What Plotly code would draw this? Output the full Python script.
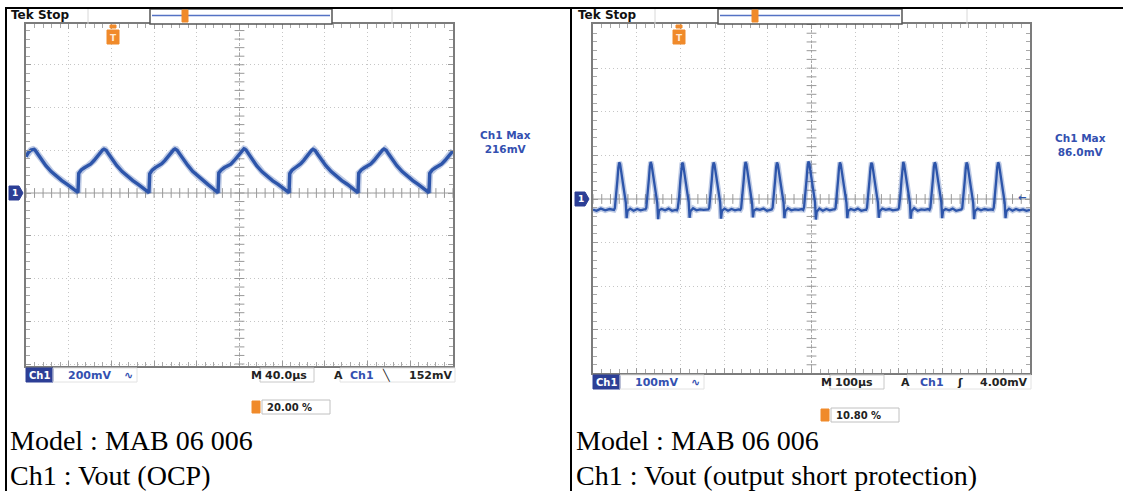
import numpy as np
import plotly.graph_objects as go

W, H = 1123, 491

# ---------------- values read off the two scope captures ----------------
# left capture: Ch1 Vout during OCP, 200 mV/div, 40 us/div
ocp_time_us = [
    0, 2, 4.6, 6.6, 7.6, 8.6, 11.1, 14.6, 18.6, 23.6, 28.6, 33.6, 38.6, 43.6, 47.1, 48.7,
    49.4, 51.7, 54.7, 57.7, 60.7, 63.7, 66.7, 69.7, 71.7, 73.1, 74.1, 75.1, 77.6, 81.1, 85.1, 90.1, 95.1, 100.1, 105.1, 110.1, 113.6, 115.2,
    115.9, 118.2, 121.2, 124.2, 127.2, 130.2, 133.2, 136.2, 138.2, 139.6, 140.6, 141.6, 144.1, 147.6, 151.6, 156.1, 161.1, 165.6, 170.6, 175.1, 178.6, 179.9,
    180.6, 182.9, 185.9, 188.9, 191.9, 194.9, 197.9, 200.9, 202.9, 204.2, 205.2, 206.2, 208.7, 212.2, 216.2, 221.2, 226.2, 231.2, 236.2, 241.2, 244.7, 246.4,
    247.1, 249.2, 251.9, 254.7, 257.4, 260.2, 263, 265.8, 267.6, 268.9, 269.9, 270.9, 273.4, 276.9, 280.9, 285.9, 290.9, 295.9, 300.9, 305.9, 309.4, 311,
    311.7, 314, 317, 320, 323, 326, 329, 332, 334, 335.4, 336.4, 337.4, 339.9, 343.4, 347.4, 352.4, 357.4, 362.4, 367.4, 372.4, 375.9, 377.5,
    378.2, 380.5, 383.5, 386.5, 389.5, 392.5, 395.5, 398.5, 400,
]
ocp_vout_mv = [
    170, 188, 201, 205, 204, 200, 181, 155, 128, 100, 78, 58, 40, 22, 9, 3,
    92, 108, 118, 126, 136, 152, 172, 190, 201, 205, 204, 200, 181, 155, 128, 100, 78, 58, 40, 22, 9, 2,
    90, 107, 119, 127, 137, 153, 173, 191, 202, 206, 205, 200, 182, 156, 129, 101, 78, 58, 39, 21, 9, 1,
    94, 108, 119, 126, 135, 151, 171, 190, 202, 207, 205, 201, 182, 155, 127, 99, 77, 57, 40, 22, 9, 2,
    91, 107, 117, 125, 137, 153, 172, 189, 200, 205, 204, 199, 180, 154, 128, 100, 77, 58, 41, 22, 9, 2,
    93, 108, 118, 126, 136, 152, 172, 190, 201, 206, 205, 200, 181, 155, 128, 100, 78, 58, 40, 22, 10, 2,
    92, 108, 118, 126, 136, 152, 172, 190, 197,
]

# right capture: Ch1 Vout during output short, 100 mV/div, 100 us/div
short_time_us = [
    0, 8, 18, 28, 38, 44,
    48, 50, 53, 56, 58, 60, 62, 64, 67, 70, 73, 75, 77, 79, 85, 93, 101, 109, 117,
    120, 122, 125, 128, 130, 132, 134, 136, 139, 142, 145, 147, 149, 151, 157, 165, 173, 181, 189,
    192, 194, 197, 200, 202, 204, 206, 208, 211, 214, 217, 219, 221, 223, 229, 237, 245, 253, 261,
    264, 266, 269, 272, 274, 276, 278, 280, 283, 286, 289, 291, 293, 295, 301, 309, 317, 325, 333,
    337, 339, 342, 345, 347, 349, 351, 353, 356, 359, 362, 364, 366, 368, 374, 382, 390, 398, 406,
    409, 411, 414, 417, 419, 421, 423, 425, 428, 431, 434, 436, 438, 440, 446, 454, 462, 470, 478,
    481, 483, 486, 489, 491, 493, 495, 497, 500, 503, 506, 508, 510, 512, 518, 526, 534, 542, 550,
    553, 555, 558, 561, 563, 565, 567, 569, 572, 575, 578, 580, 582, 584, 590, 598, 606, 614, 622,
    625, 627, 630, 633, 635, 637, 639, 641, 644, 647, 650, 652, 654, 656, 662, 670, 678, 686, 694,
    698, 700, 703, 706, 708, 710, 712, 714, 717, 720, 723, 725, 727, 729, 735, 743, 751, 759, 767,
    770, 772, 775, 778, 780, 782, 784, 786, 789, 792, 795, 797, 799, 801, 807, 815, 823, 831, 839,
    843, 845, 848, 851, 853, 855, 857, 859, 862, 865, 868, 870, 872, 874, 880, 888, 896, 904, 912,
    915, 917, 920, 923, 925, 927, 929, 931, 934, 937, 940, 942, 944, 946, 952, 960, 968, 976, 984, 992, 1000,
]
short_vout_mv = [
    -24, -27, -22, -26, -23, -25,
    -25, -21, 5, 45, 72, 84, 80, 68, 48, 25, 5, -8, -44, -27, -22, -27, -23, -26, -24,
    -24, -20, 7, 47, 74, 85, 79, 67, 46, 24, 4, -9, -46, -26, -23, -26, -22, -27, -25,
    -26, -21, 4, 44, 71, 83, 81, 69, 49, 26, 6, -7, -43, -28, -21, -26, -24, -25, -23,
    -24, -20, 6, 46, 73, 84, 79, 67, 47, 24, 5, -8, -45, -27, -22, -27, -23, -26, -24,
    -25, -21, 5, 45, 72, 85, 80, 68, 48, 25, 4, -9, -42, -27, -23, -25, -22, -27, -25,
    -24, -20, 6, 46, 73, 84, 79, 67, 47, 24, 5, -8, -44, -28, -21, -26, -24, -25, -23,
    -25, -19, 8, 48, 75, 86, 81, 69, 49, 26, 6, -7, -47, -29, -22, -27, -23, -26, -24,
    -24, -21, 5, 45, 72, 84, 79, 67, 46, 24, 4, -9, -44, -27, -23, -26, -22, -27, -25,
    -25, -20, 6, 46, 72, 83, 80, 68, 48, 25, 5, -8, -43, -28, -22, -25, -23, -26, -24,
    -24, -21, 4, 44, 73, 85, 79, 67, 47, 24, 5, -8, -45, -28, -21, -27, -24, -25, -23,
    -25, -20, 7, 47, 74, 84, 80, 68, 48, 26, 6, -7, -44, -27, -23, -26, -22, -27, -25,
    -24, -21, 5, 45, 72, 84, 79, 66, 46, 24, 4, -9, -46, -28, -22, -26, -23, -25, -24,
    -25, -20, 6, 46, 73, 84, 80, 67, 47, 25, 5, -8, -44, -28, -22, -27, -23, -26, -24, -27, -25,
]

# scope settings / readouts
volts_per_div = [200, 100]
us_per_div = [40, 100]
max_labels = ["Ch1 Max<br>216mV", "Ch1 Max<br>86.0mV"]
scale_labels = ["200mV", "100mV"]
time_labels = ["40.0\u00b5s", "100\u00b5s"]
trig_levels = ["152mV", "4.00mV"]
trig_slopes = ["\u2572", "\u0283"]
trig_positions = ["20.00 %", "10.80 %"]
model_text = "Model : MAB 06 006"
ch1_captions = ["Ch1 : Vout (OCP)", "Ch1 : Vout (output short protection)"]

# ---------------- layout helpers (pixel -> paper) ----------------
def fx(x):
    return x / W


def fy(y):
    return 1 - y / H


BLUE = "#2d55aa"
TEXT_BLUE = "#3350b0"
ORANGE = "#f08a2a"
GRID = "#c6c6c6"
FRAME = "#7c7c7c"

# graticule boxes in pixels: left, right, top, bottom, ground row
panels = [
    dict(x0=26, x1=453, y0=24, y1=366, gnd=193, ax="", off=0),
    dict(x0=593, x1=1030, y0=24, y1=373, gnd=199, ax="2", off=567),
]

fig = go.Figure()
annotations = []
shapes = []


def text(x, y, s, size=11, color="#222", xanchor="left", family="DejaVu Sans", bold=True):
    annotations.append(dict(
        x=fx(x), y=fy(y), xref="paper", yref="paper", text=f"<b>{s}</b>" if bold else s,
        showarrow=False, xanchor=xanchor, yanchor="middle", align="center",
        font=dict(family=family, size=size, color=color), borderpad=0,
    ))


def rect(x0, y0, x1, y1, line="#888", fill=None, width=1):
    shapes.append(dict(type="rect", xref="paper", yref="paper",
                       x0=fx(x0), x1=fx(x1), y0=fy(y1), y1=fy(y0),
                       line=dict(color=line, width=width), fillcolor=fill, layer="above"))


def hline(x0, x1, y, color="#000", width=2):
    shapes.append(dict(type="line", xref="paper", yref="paper", x0=fx(x0), x1=fx(x1),
                       y0=fy(y), y1=fy(y), line=dict(color=color, width=width), layer="above"))


def vline(x, y0, y1, color="#000", width=2):
    shapes.append(dict(type="line", xref="paper", yref="paper", x0=fx(x), x1=fx(x),
                       y0=fy(y0), y1=fy(y1), line=dict(color=color, width=width), layer="above"))


series = [(ocp_time_us, ocp_vout_mv, 3.4), (short_time_us, short_vout_mv, 2.3)]

for i, p in enumerate(panels):
    vdiv, tdiv = volts_per_div[i], us_per_div[i]
    px_per_div = (p["y1"] - p["y0"]) / 8
    y_top = (p["gnd"] - p["y0"]) / px_per_div * vdiv
    y_bot = -(p["y1"] - p["gnd"]) / px_per_div * vdiv
    xa, ya = "xaxis" + p["ax"], "yaxis" + p["ax"]
    xr, yr = "x" + p["ax"], "y" + p["ax"]
    axis_common = dict(
        showticklabels=False, showgrid=True, gridcolor=GRID, griddash="1px,3px", gridwidth=1,
        zeroline=False, showline=True, linecolor=FRAME, linewidth=2, mirror="ticks",
        ticks="inside", ticklen=5, tickcolor="#9a9a9a", tickwidth=1, tick0=0,
        fixedrange=True,
    )
    fig.update_layout({
        xa: dict(axis_common, domain=[fx(p["x0"]), fx(p["x1"])], range=[0, 10 * tdiv], dtick=tdiv,
                 anchor=yr, minor=dict(dtick=tdiv / 5, ticks="inside", ticklen=4, tickcolor="#a8a8a8", showgrid=False)),
        ya: dict(axis_common, domain=[fy(p["y1"]), fy(p["y0"])], range=[y_bot, y_top], dtick=vdiv,
                 anchor=xr, minor=dict(dtick=vdiv / 5, ticks="inside", ticklen=4, tickcolor="#a8a8a8", showgrid=False)),
    })

    # centre cross with small tick marks
    shapes.append(dict(type="line", xref=xr, yref=yr, x0=5 * tdiv, x1=5 * tdiv, y0=y_bot, y1=y_top,
                       line=dict(color="#a6a6a6", width=1, dash="3px,2px"), layer="below"))
    shapes.append(dict(type="line", xref=xr, yref=yr, x0=0, x1=10 * tdiv, y0=0, y1=0,
                       line=dict(color="#9c9c9c", width=1), layer="below"))
    hx = np.arange(0, 10 * tdiv + 1e-9, tdiv / 5)
    vy = np.arange(-4 * vdiv, 4 * vdiv + 1e-9, vdiv / 5)
    fig.add_trace(go.Scatter(x=hx, y=np.zeros_like(hx), mode="markers", xaxis=xr, yaxis=yr,
                             marker=dict(symbol="line-ns", size=7, line=dict(color="#999", width=1)),
                             hoverinfo="skip", showlegend=False))
    fig.add_trace(go.Scatter(x=np.full_like(vy, 5 * tdiv), y=vy, mode="markers", xaxis=xr, yaxis=yr,
                             marker=dict(symbol="line-ew", size=7, line=dict(color="#999", width=1)),
                             hoverinfo="skip", showlegend=False))

    t, v, lw = series[i]
    # soft halo under the trace, like the phosphor-style smear on the capture
    fig.add_trace(go.Scatter(x=t, y=v, mode="lines", xaxis=xr, yaxis=yr, opacity=0.3,
                             line=dict(color=BLUE, width=lw + 3), hoverinfo="skip", showlegend=False))
    fig.add_trace(go.Scatter(x=t, y=v, mode="lines", xaxis=xr, yaxis=yr,
                             line=dict(color=BLUE, width=lw), showlegend=False, name="Ch1"))

    o = p["off"]
    # top status strip
    text(10 + o, 15, "Tek Stop", size=12, color="#111")
    vline(88 + o, 8, 24, color="#d8d8d8", width=1)
    vline(392 if i == 0 else 967, 8, 24, color="#d8d8d8", width=1)
    bar = (150, 332, 185) if i == 0 else (718, 902, 755)
    rect(bar[0], 9, bar[1], 24, line="#555", fill="white", width=1.5)
    hline(bar[0] + 2, bar[1] - 2, 15.5, color="#5472c4", width=1.5)
    rect(bar[2] - 3, 10, bar[2] + 3, 22, line=ORANGE, fill=ORANGE, width=1)

    # trigger position marker under the top edge
    tx = 113 if i == 0 else 679
    rect(tx - 6, 30, tx + 6, 44, line=ORANGE, fill=ORANGE, width=1)
    rect(tx - 3, 25, tx + 3, 28, line=ORANGE, fill=ORANGE, width=1)
    text(tx, 37.5, "T", size=9, color="#ffe9d2", xanchor="center")

    # ground marker
    gx = 9 if i == 0 else 575
    shapes.append(dict(type="path", xref="paper", yref="paper", layer="above",
                       path=f"M {fx(gx)} {fy(p['gnd'] - 7)} L {fx(gx + 10)} {fy(p['gnd'] - 7)} "
                            f"L {fx(gx + 14)} {fy(p['gnd'])} L {fx(gx + 10)} {fy(p['gnd'] + 7)} "
                            f"L {fx(gx)} {fy(p['gnd'] + 7)} Z",
                       fillcolor="#2c3f96", line=dict(color="#2c3f96", width=1)))
    text(gx + 6, p["gnd"], "1", size=9, color="white", xanchor="center")

    # max readout at the right of the graticule
    mx = 505 if i == 0 else 1080
    my = 142 if i == 0 else 145
    annotations.append(dict(x=fx(mx), y=fy(my), xref="paper", yref="paper", showarrow=False,
                            text=f"<b>{max_labels[i]}</b>", xanchor="center", yanchor="middle",
                            font=dict(family="DejaVu Sans", size=10.5, color=TEXT_BLUE)))

    # bottom readouts
    ry = p["y1"] + 9
    bx = p["x0"]
    rect(bx, ry - 7, bx + 27, ry + 7, line="#2c3f96", fill="#2c3f96")
    text(bx + 13.5, ry, "Ch1", size=10, color="white", xanchor="center")
    rect(bx + 27, ry - 7, bx + 111, ry + 7, line="#e2e2e2")
    text(bx + 41, ry, scale_labels[i], size=11, color=TEXT_BLUE)
    text(bx + 108, ry, "\u223f", size=11, color=TEXT_BLUE, xanchor="right")

    if i == 0:
        m_x, a_x, c_x, s_x, l_x = 250, 333, 349, 386, 453
    else:
        m_x, a_x, c_x, s_x, l_x = 820, 900, 919, 960, 1029
    text(m_x, ry, "M", size=11, color="#222")
    rect(m_x + 10, ry - 7, m_x + 64, ry + 7, line="#c8c8c8")
    text(m_x + 14, ry, time_labels[i], size=11, color="#222")
    text(a_x, ry, "A", size=11, color="#222")
    rect(a_x + 7, ry - 7, l_x + 2, ry + 7, line="#e2e2e2")
    text(c_x, ry, "Ch1", size=11, color=TEXT_BLUE)
    text(s_x, ry, trig_slopes[i], size=11, color="#222", xanchor="center")
    text(l_x, ry, trig_levels[i], size=11, color="#222", xanchor="right")

    # trigger position readout
    py_ = 407 if i == 0 else 415
    ox = 252 if i == 0 else 821
    rect(ox, py_ - 6, ox + 8, py_ + 6, line=ORANGE, fill=ORANGE)
    rect(ox + 10, py_ - 7, ox + 78, py_ + 7, line="#c0c0c0")
    text(ox + 14, py_, trig_positions[i], size=10, color="#222")

    # captions under each capture
    cx = 9 if i == 0 else 575
    text(cx, 440, model_text, size=28, color="#000", family="Liberation Serif", bold=False)
    text(cx, 475, ch1_captions[i], size=28, color="#000", family="Liberation Serif", bold=False)

# trigger level arrow on the right capture
text(1027, 197, "\u2190", size=10, color=BLUE, xanchor="right")

# table borders
hline(5, W, 8, color="#000", width=2)
vline(6, 7, H, color="#000", width=2)
vline(571, 7, H, color="#000", width=2)

fig.update_layout(
    width=W, height=H,
    margin=dict(l=0, r=0, t=0, b=0),
    plot_bgcolor="white", paper_bgcolor="white",
    showlegend=False, hovermode=False,
    annotations=annotations, shapes=shapes,
)

# the page body has a default margin; drop it so the figure sits at the window origin
fig.write_html("out.html", config={"displayModeBar": False},
               post_script="document.body.style.margin='0px';")
